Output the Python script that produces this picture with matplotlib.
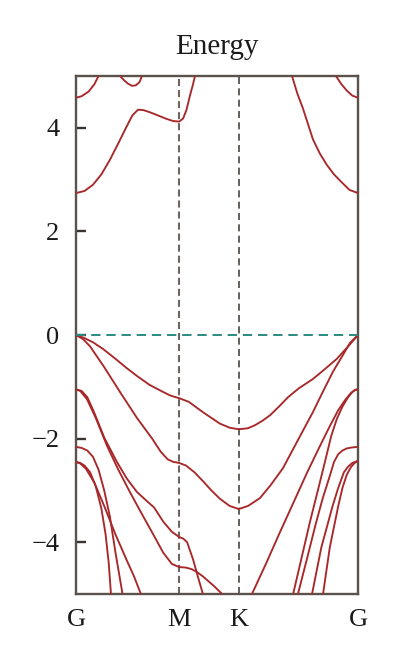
import matplotlib
matplotlib.use("Agg")
import matplotlib.pyplot as plt

# ---- data (k-path fraction, energy in eV) ----
k_ticks = [0.0, 0.366, 0.577, 1.0]
k_labels = ["G", "M", "K", "G"]
y_ticks = [-4, -2, 0, 2, 4]
title = "Energy"

# conduction bands
c1_left_k = [0.0, 0.03, 0.06, 0.09, 0.12, 0.15, 0.18, 0.20, 0.22, 0.24, 0.262, 0.29, 0.322, 0.345, 0.366, 0.38, 0.392, 0.404, 0.414, 0.422]
c1_left_e = [2.74, 2.78, 2.9, 3.1, 3.38, 3.7, 4.03, 4.24, 4.35, 4.34, 4.3, 4.24, 4.17, 4.13, 4.12, 4.18, 4.35, 4.62, 4.82, 5.0]
c1_right_k = [0.766, 0.785, 0.805, 0.84, 0.865, 0.89, 0.915, 0.94, 0.97, 1.0]
c1_right_e = [5.0, 4.66, 4.37, 3.78, 3.5, 3.28, 3.1, 2.96, 2.8, 2.74]
c2_left_k = [0.0, 0.02, 0.045, 0.065, 0.08]
c2_left_e = [4.58, 4.61, 4.7, 4.84, 5.0]
c2_right_k = [0.922, 0.94, 0.96, 0.98, 1.0]
c2_right_e = [5.0, 4.85, 4.72, 4.62, 4.58]
c3_k = [0.156, 0.17, 0.185, 0.199, 0.212, 0.225, 0.234]
c3_e = [5.0, 4.92, 4.85, 4.81, 4.82, 4.88, 5.0]

# valence bands
vA_k = [0.0, 0.03, 0.06, 0.096, 0.14, 0.18, 0.216, 0.26, 0.309, 0.335, 0.366, 0.40, 0.45, 0.51, 0.545, 0.577, 0.61, 0.635, 0.66, 0.688, 0.72, 0.752, 0.79, 0.84, 0.88, 0.925, 0.97, 1.0]
vA_e = [0.0, -0.06, -0.14, -0.27, -0.46, -0.64, -0.79, -0.96, -1.1, -1.17, -1.22, -1.29, -1.49, -1.71, -1.79, -1.82, -1.8, -1.74, -1.66, -1.55, -1.38, -1.2, -1.03, -0.85, -0.67, -0.46, -0.19, 0.0]
vB_k = [0.0, 0.025, 0.05, 0.10, 0.156, 0.216, 0.27, 0.30, 0.325, 0.345, 0.366, 0.39, 0.42, 0.45, 0.48, 0.51, 0.545, 0.577, 0.61, 0.652, 0.69, 0.734, 0.78, 0.84, 0.875, 0.911, 0.945, 0.972, 1.0]
vB_e = [0.0, -0.08, -0.22, -0.62, -1.1, -1.6, -2.0, -2.25, -2.4, -2.45, -2.47, -2.52, -2.65, -2.82, -3.0, -3.16, -3.3, -3.36, -3.3, -3.15, -2.9, -2.57, -2.1, -1.49, -1.1, -0.71, -0.4, -0.15, 0.0]
vD_k = [0.0, 0.02, 0.04, 0.064, 0.10, 0.145, 0.18, 0.216, 0.25, 0.277, 0.309, 0.34, 0.366, 0.38, 0.394, 0.415, 0.433, 0.45]
vD_e = [-1.05, -1.08, -1.2, -1.49, -1.98, -2.45, -2.77, -3.03, -3.2, -3.33, -3.6, -3.8, -3.9, -3.93, -4.0, -4.33, -4.68, -5.0]
vE_k = [0.0, 0.015, 0.039, 0.07, 0.11, 0.15, 0.19, 0.23, 0.277, 0.309, 0.34, 0.366, 0.39, 0.41, 0.43, 0.45, 0.49, 0.518]
vE_e = [-1.05, -1.08, -1.24, -1.6, -2.14, -2.6, -3.02, -3.42, -3.88, -4.2, -4.42, -4.48, -4.49, -4.52, -4.58, -4.66, -4.85, -5.0]
vF_k = [0.0, 0.02, 0.04, 0.06, 0.08, 0.10, 0.12, 0.14, 0.165]
vF_e = [-2.16, -2.18, -2.23, -2.35, -2.6, -3.0, -3.5, -4.2, -5.0]
vG1_k = [0.0, 0.015, 0.03, 0.05, 0.07, 0.09, 0.105, 0.116, 0.124]
vG1_e = [-2.45, -2.47, -2.52, -2.65, -2.92, -3.35, -3.85, -4.4, -5.0]
vG2_k = [0.0, 0.015, 0.035, 0.065, 0.10, 0.14, 0.18, 0.205, 0.23]
vG2_e = [-2.45, -2.48, -2.58, -2.85, -3.3, -3.85, -4.35, -4.65, -5.0]
rA_k = [0.624, 0.675, 0.723, 0.77, 0.82, 0.86, 0.90, 0.93, 0.955, 0.975, 0.99, 1.0]
rA_e = [-5.0, -4.4, -3.81, -3.25, -2.65, -2.2, -1.76, -1.45, -1.25, -1.12, -1.06, -1.05]
rB_k = [0.77, 0.80, 0.83, 0.86, 0.885, 0.905, 0.925, 0.945, 0.965, 0.98, 0.99, 1.0]
rB_e = [-5.0, -4.3, -3.6, -2.95, -2.4, -1.95, -1.62, -1.38, -1.2, -1.1, -1.06, -1.05]
rC_k = [0.787, 0.82, 0.85, 0.875, 0.90, 0.915, 0.93, 0.945, 0.96, 0.98, 1.0]
rC_e = [-5.0, -4.3, -3.65, -3.15, -2.72, -2.45, -2.3, -2.23, -2.19, -2.17, -2.16]
rD1_k = [0.837, 0.87, 0.89, 0.91, 0.93, 0.95, 0.965, 0.98, 1.0]
rD1_e = [-5.0, -4.1, -3.7, -3.3, -2.95, -2.65, -2.54, -2.47, -2.43]
rD2_k = [0.876, 0.90, 0.915, 0.93, 0.945, 0.96, 0.975, 0.988, 1.0]
rD2_e = [-5.0, -4.1, -3.7, -3.3, -2.95, -2.7, -2.55, -2.47, -2.43]

bands = [
    (c1_left_k, c1_left_e), (c1_right_k, c1_right_e),
    (c2_left_k, c2_left_e), (c2_right_k, c2_right_e),
    (c3_k, c3_e),
    (vA_k, vA_e), (vB_k, vB_e), (vD_k, vD_e), (vE_k, vE_e),
    (vF_k, vF_e), (vG1_k, vG1_e), (vG2_k, vG2_e),
    (rA_k, rA_e), (rB_k, rB_e), (rC_k, rC_e), (rD1_k, rD1_e), (rD2_k, rD2_e),
]

plt.rcParams['font.family'] = ['Liberation Serif', 'DejaVu Serif']

fig = plt.figure(figsize=(3.99, 6.60), dpi=100)
ax = fig.add_axes([76/399, 66/660, 282/399, 518/660])

band_color = "#a8282a"
for kk, ee in bands:
    ax.plot(kk, ee, color=band_color, lw=1.35, solid_capstyle='round', solid_joinstyle='round', zorder=3)

# high-symmetry lines
ax.axvline(k_ticks[1], color="#6e6560", lw=1.5, linestyle=(0, (3.4, 1.9)), zorder=2)
ax.axvline(k_ticks[2], color="#4a4440", lw=1.2, linestyle=(0, (4.2, 2.6)), zorder=2)
ax.axhline(0, color="#2a8a82", lw=1.4, linestyle=(0, (4.8, 3.0)), zorder=4)

ax.set_xlim(0, 1)
ax.set_ylim(-5, 5)
ax.set_xticks(k_ticks)
ax.set_xticklabels(k_labels, fontsize=19)
ax.set_yticks(y_ticks)
ax.set_yticklabels([str(v).replace('-', '\u2212') for v in y_ticks], fontsize=19)
ax.tick_params(axis='x', length=0, pad=11, colors="#1a1a1a")
ax.tick_params(axis='y', direction='in', length=7, width=1.7, pad=12, color="#3a3330", labelcolor="#1a1a1a")
for s in ax.spines.values():
    s.set_color("#5c524c")
    s.set_linewidth(1.7)
ax.set_title(title, fontsize=21, pad=16, color="#1a1a1a")

fig.savefig("out.png", dpi=100)
